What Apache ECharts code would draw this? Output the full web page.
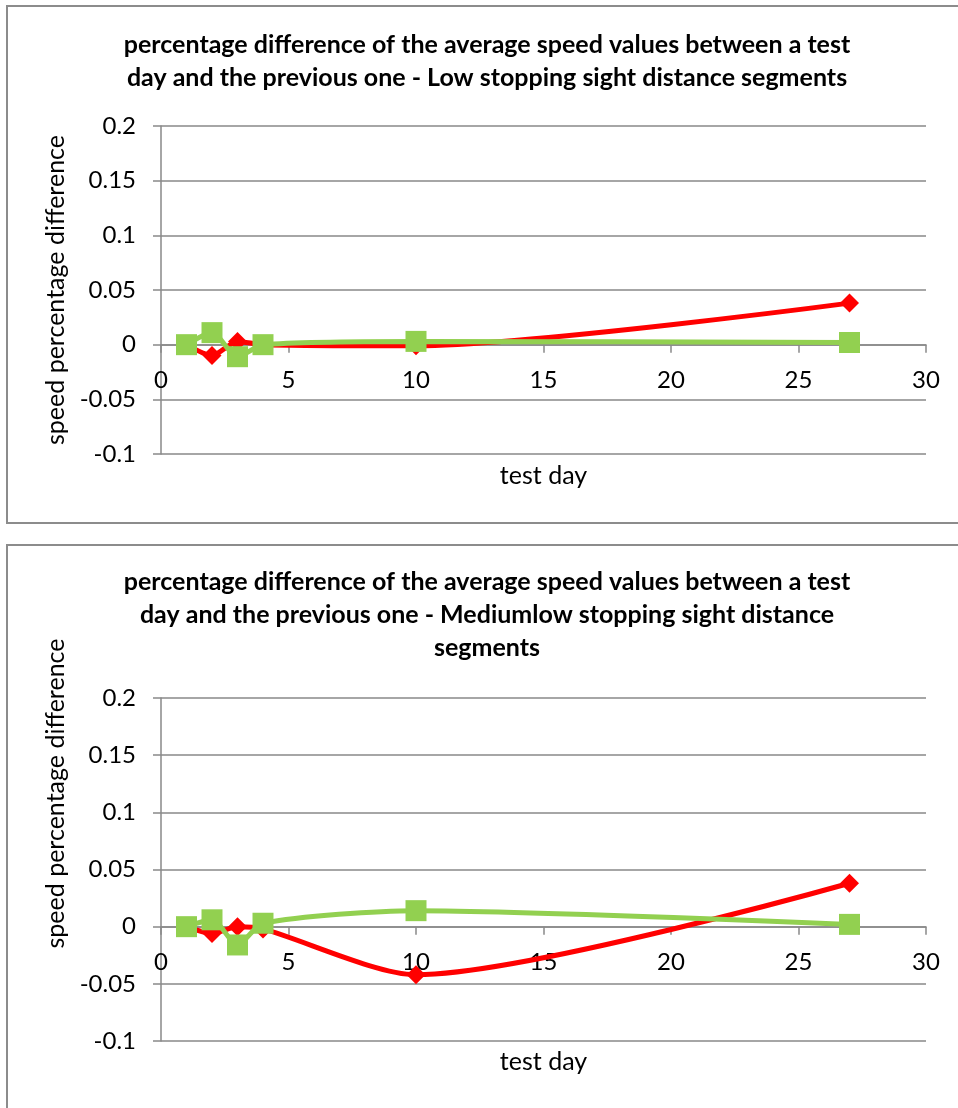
<!DOCTYPE html>
<html>
<head>
<meta charset="utf-8">
<script src="https://cdn.jsdelivr.net/npm/echarts@6/dist/echarts.min.js"></script>
<style>
html,body{margin:0;padding:0;background:#fff;}
#c{width:958px;height:1108px;}
</style>
</head>
<body>
<div id="c"></div>
<script>
// ---- data ----
const days = [1, 2, 3, 4, 10, 27];
const lowRed = [0, -0.010, 0.003, 0.000, -0.001, 0.038];
const lowGreen = [0, 0.011, -0.011, 0.000, 0.003, 0.002];
const midRed = [0, -0.006, 0.000, -0.002, -0.042, 0.038];
const midGreen = [0, 0.006, -0.016, 0.003, 0.014, 0.002];
const xTicks = [0, 5, 10, 15, 20, 25, 30];
const yTicks = [-0.1, -0.05, 0, 0.05, 0.1, 0.15, 0.2];
const titles = [
  'percentage difference of the average speed values between a test\nday and the previous one - Low stopping sight distance segments',
  'percentage difference of the average speed values between a test\nday and the previous one - Mediumlow stopping sight distance\nsegments'
];
const xName = 'test day';
const yName = 'speed percentage difference';

const FONT = 'Lato';
const GRAY = '#898989';
const RED = '#FF0000';
const GREEN = '#92D050';

const yMin = yTicks[0], yMax = yTicks[yTicks.length - 1];
function pairs(xs, ys) { return xs.map((x, i) => [x, ys[i]]); }

// x axis sits at y = 0: shift it up from the grid bottom by the share of the range below zero
function xAxis(gi, gridH, gap) {
  return {
    gridIndex: gi, type: 'value', min: xTicks[0], max: xTicks[xTicks.length - 1], interval: 5,
    position: 'bottom',
    offset: -gridH * (0 - yMin) / (yMax - yMin),
    name: xName, nameLocation: 'middle', nameGap: gap,
    nameTextStyle: { fontFamily: FONT, fontSize: 25, color: '#000' },
    axisLine: { onZero: false, lineStyle: { color: GRAY, width: 1.5 } },
    axisTick: { show: true, length: 8, lineStyle: { color: GRAY, width: 1.5 } },
    axisLabel: { margin: 24, fontFamily: FONT, fontSize: 24, color: '#000' },
    splitLine: { show: false }
  };
}
function yAxis(gi, pad) {
  return {
    gridIndex: gi, type: 'value', min: yMin, max: yMax, interval: 0.05,
    name: yName, nameLocation: 'middle', nameGap: 79,
    nameTextStyle: { fontFamily: FONT, fontSize: 25, color: '#000', padding: pad },
    axisLine: { show: true, onZero: false, lineStyle: { color: GRAY, width: 1.5 } },
    axisTick: { show: true, length: 8, lineStyle: { color: GRAY, width: 1.5 } },
    axisLabel: { margin: 25, fontFamily: FONT, fontSize: 24, color: '#000',
      formatter: v => String(+v.toFixed(2)) },
    splitLine: { show: true, lineStyle: { color: GRAY, width: 1.5 } }
  };
}
function ser(name, gi, ys, color, sym, size) {
  return {
    name: name, type: 'line', xAxisIndex: gi, yAxisIndex: gi,
    data: pairs(days, ys), smooth: 0.25,
    symbol: sym, symbolSize: size, showSymbol: true,
    lineStyle: { color: color, width: 5 },
    itemStyle: { color: color },
    z: 3
  };
}

const H1 = 328, H2 = 343;
const chart = echarts.init(document.getElementById('c'), null, { renderer: 'canvas' });
chart.setOption({
  animation: false,
  backgroundColor: '#fff',
  title: [
    { text: titles[0], left: 487, top: 28, padding: 0, textAlign: 'center',
      textStyle: { fontFamily: FONT, fontSize: 25, fontWeight: 'bold', color: '#000', lineHeight: 33 } },
    { text: titles[1], left: 487, top: 565, padding: 0, textAlign: 'center',
      textStyle: { fontFamily: FONT, fontSize: 25, fontWeight: 'bold', color: '#000', lineHeight: 33 } }
  ],
  graphic: [
    { type: 'rect', shape: { x: 7, y: 6, width: 1000, height: 517 }, style: { fill: 'none', stroke: '#8c8c8c', lineWidth: 2 }, z: 0 },
    { type: 'rect', shape: { x: 7, y: 545, width: 1000, height: 600 }, style: { fill: 'none', stroke: '#8c8c8c', lineWidth: 2 }, z: 0 }
  ],
  grid: [
    { left: 161, top: 126, width: 765, height: H1, containLabel: false, outerBoundsMode: 'none' },
    { left: 161, top: 698, width: 765, height: H2, containLabel: false, outerBoundsMode: 'none' }
  ],
  xAxis: [xAxis(0, H1, 119), xAxis(1, H2, 123)],
  yAxis: [yAxis(0, 0), yAxis(1, [0, 0, 0, 152])],
  series: [
    ser('Red', 0, lowRed, RED, 'diamond', 19),
    ser('Green', 0, lowGreen, GREEN, 'rect', 21),
    ser('Red', 1, midRed, RED, 'diamond', 19),
    ser('Green', 1, midGreen, GREEN, 'rect', 21)
  ]
});
</script>
</body>
</html>
